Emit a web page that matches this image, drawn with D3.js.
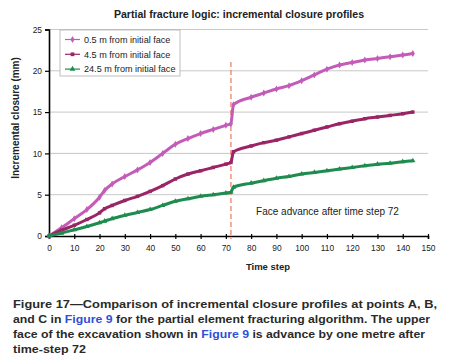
<!DOCTYPE html>
<html><head><meta charset="utf-8">
<script src="https://cdn.jsdelivr.net/npm/d3@7/dist/d3.min.js"></script>
<style>body{margin:0;background:#fff}svg{display:block}</style>
</head><body><svg id="c" width="450" height="363"></svg>
<script>
const timeSteps = [0,5,10,15,20,22,25,30,35,40,45,50,55,60,65,70,72,73,80,85,90,95,100,105,110,115,120,125,130,135,140,144];
const seriesA = [0,1.0,2.1,3.2,4.7,5.5,6.3,7.2,8.0,8.9,10.0,11.1,11.8,12.4,12.9,13.4,13.6,15.9,16.8,17.3,17.8,18.2,18.8,19.5,20.2,20.7,21.0,21.3,21.5,21.7,21.9,22.1];
const seriesB = [0,0.7,1.3,2.0,2.8,3.3,3.7,4.3,4.8,5.4,6.1,6.9,7.5,7.9,8.3,8.7,8.9,10.2,10.9,11.3,11.6,12.0,12.4,12.8,13.2,13.6,13.9,14.2,14.4,14.6,14.8,15.0];
const seriesC = [0,0.35,0.75,1.15,1.6,1.8,2.1,2.5,2.85,3.2,3.7,4.2,4.5,4.8,5.0,5.2,5.3,5.9,6.4,6.7,7.0,7.2,7.5,7.7,7.9,8.1,8.3,8.5,8.7,8.8,9.0,9.1];
const seriesNames = ["0.5 m from initial face","4.5 m from initial face","24.5 m from initial face"];
const xTicks = [0,10,20,30,40,50,60,70,80,90,100,110,120,130,140,150];
const yTicks = [0,5,10,15,20,25];
const faceAdvanceStep = 72;
const title = "Partial fracture logic: incremental closure profiles";
const xLabel = "Time step";
const yLabel = "Incremental closure (mm)";
const annotation = "Face advance after time step 72";

const svg = d3.select("#c");
const font = "'Liberation Sans', Arial, sans-serif";
const x = d3.scaleLinear().domain([0,150]).range([49,428]);
const y = d3.scaleLinear().domain([0,25]).range([236,29.5]);

// grid
svg.append("g").selectAll("line").data(yTicks.filter(d=>d>0)).join("line")
  .attr("x1",x(0)).attr("x2",x(150)).attr("y1",d=>y(d)).attr("y2",d=>y(d))
  .attr("stroke","#c8c8c8").attr("stroke-width",1);

// axes
const yAxis = svg.append("g").attr("transform",`translate(${x(0)},0)`)
  .call(d3.axisLeft(y).tickValues(yTicks).tickSize(4).tickPadding(3));
const xAxis = svg.append("g").attr("transform",`translate(0,${y(0)})`)
  .call(d3.axisBottom(x).tickValues(xTicks).tickSize(3).tickPadding(6));
[xAxis,yAxis].forEach(g=>{
  g.select(".domain").attr("stroke","#000").attr("stroke-width",1.6);
  g.selectAll(".tick line").attr("stroke","#000").attr("stroke-width",1.2);
  g.selectAll(".tick text").attr("font-family",font).attr("font-size",8.4).attr("fill","#222");
});
xAxis.selectAll(".tick line").attr("y1",-2);

// dashed line
svg.append("line").attr("x1",x(faceAdvanceStep)).attr("x2",x(faceAdvanceStep))
  .attr("y1",62).attr("y2",y(0)+3).attr("stroke","#ee7f6c").attr("stroke-width",1.3)
  .attr("stroke-dasharray","5,3");

const defs = [
  {vals:seriesA, color:"#c35cb8", sym:d3.symbolDiamond, size:14},
  {vals:seriesB, color:"#9a2566", sym:d3.symbolSquare, size:12},
  {vals:seriesC, color:"#1e8c4e", sym:d3.symbolTriangle, size:12}
];
const line = d3.line().x(d=>x(d[0])).y(d=>y(d[1])).curve(d3.curveMonotoneX);
defs.forEach(s=>{
  const pts = timeSteps.map((t,i)=>[t,s.vals[i]]);
  svg.append("path").datum(pts).attr("d",line).attr("fill","none")
    .attr("stroke",s.color).attr("stroke-width",3).attr("stroke-linejoin","round");
  svg.append("g").selectAll("path").data(pts).join("path")
    .attr("transform",d=>`translate(${x(d[0])},${y(d[1])})`)
    .attr("d",d3.symbol(s.sym,s.size)).attr("fill",s.color);
});

// legend
const lg = svg.append("g");
lg.append("rect").attr("x",60).attr("y",30).attr("width",120).attr("height",46)
  .attr("fill","#fff").attr("stroke","#b0b0b0").attr("stroke-width",0.8);
defs.forEach((s,i)=>{
  const yy = 39.5 + i*14.8;
  lg.append("line").attr("x1",65).attr("x2",80).attr("y1",yy).attr("y2",yy)
    .attr("stroke",s.color).attr("stroke-width",1.2);
  lg.append("path").attr("transform",`translate(72.5,${yy})`).attr("d",d3.symbol(s.sym,14)).attr("fill",s.color);
  lg.append("text").attr("x",84).attr("y",yy+3.2).attr("font-family",font).attr("font-size",9.1)
    .attr("fill","#222").text(seriesNames[i]);
});

// texts
svg.append("text").attr("x",239).attr("y",18).attr("text-anchor","middle").attr("font-family",font)
  .attr("font-size",10.6).attr("font-weight","bold").attr("fill","#222").text(title);
svg.append("text").attr("x",268).attr("y",270).attr("text-anchor","middle").attr("font-family",font)
  .attr("font-size",9.5).attr("font-weight","bold").attr("fill","#222").text(xLabel);
svg.append("text").attr("transform","translate(19,118) rotate(-90)").attr("text-anchor","middle")
  .attr("font-family",font).attr("font-size",10).attr("font-weight","bold").attr("fill","#222").text(yLabel);
svg.append("text").attr("x",327.5).attr("y",215).attr("text-anchor","middle").attr("font-family",font)
  .attr("font-size",10).attr("fill","#222").text(annotation);

// caption
const capLines = [
  [["Figure 17\u2014Comparison of incremental closure profiles at points A, B,",0]],
  [["and C in ",0],["Figure 9",1],[" for the partial element fracturing algorithm. The upper",0]],
  [["face of the excavation shown in ",0],["Figure 9",1],[" is advance by one metre after",0]],
  [["time-step 72",0]]
];
const capWidths = [424,417,412,73];
capLines.forEach((parts,i)=>{
  const t = svg.append("text").attr("x",13).attr("y",307.5+i*15).attr("font-family",font)
    .attr("font-size",11.2).attr("font-weight","bold").attr("fill","#2a2a2a")
    .attr("textLength",capWidths[i]).attr("lengthAdjust","spacingAndGlyphs");
  parts.forEach(p=>t.append("tspan").attr("fill",p[1]?"#2f4fd6":"#2a2a2a").text(p[0]));
});
</script></body></html>
